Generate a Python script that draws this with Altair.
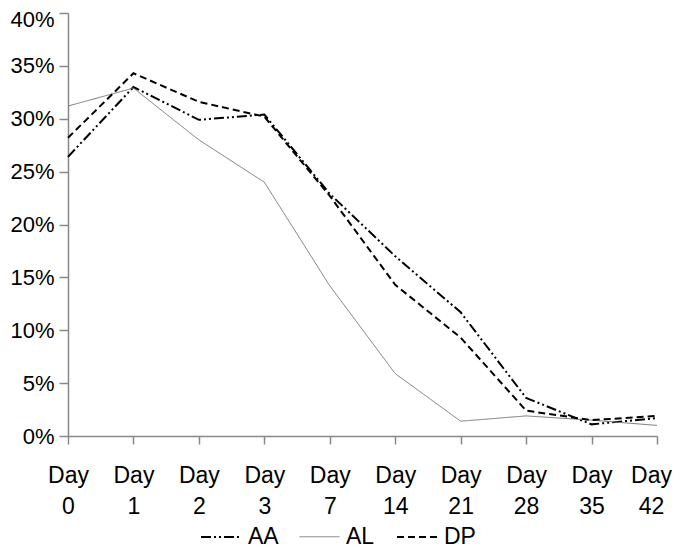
import altair as alt
import pandas as pd

days = ["Day 0", "Day 1", "Day 2", "Day 3", "Day 7", "Day 14", "Day 21", "Day 28", "Day 35", "Day 42"]
series_names = ["AA", "AL", "DP"]
aa = [26.4, 33.0, 29.9, 30.4, 22.9, 17.0, 11.7, 3.6, 1.1, 1.7]
al = [31.2, 32.9, 28.0, 24.0, 14.2, 5.9, 1.4, 1.9, 1.5, 1.0]
dp = [28.2, 34.3, 31.6, 30.2, 22.7, 14.3, 9.3, 2.4, 1.5, 1.9]
y_ticks = [0, 5, 10, 15, 20, 25, 30, 35, 40]

rows = []
for name, vals in zip(series_names, [aa, al, dp]):
    for d, v in zip(days, vals):
        rows.append({"day": d, "value": v, "series": name})
df = pd.DataFrame(rows)

FONT = "Liberation Sans"

legend = alt.Legend(
    title=None,
    orient="none",
    direction="horizontal",
    legendX=132,
    legendY=503,
    symbolType="stroke",
    symbolSize=1600,
    labelFontSize=23,
    labelFont=FONT,
    labelColor="black",
    labelOffset=6,
    columnPadding=18,
    padding=0,
)

chart = (
    alt.Chart(df)
    .mark_line()
    .encode(
        x=alt.X(
            "day:N",
            sort=days,
            scale=alt.Scale(type="point", padding=0),
            axis=alt.Axis(
                title=None,
                labelAngle=0,
                labelExpr="split(datum.label, ' ')",
                labelFontSize=23,
                labelFont=FONT,
                labelColor="black",
                labelPadding=20,
                labelLineHeight=31,
                labelOffset={"condition": {"test": "datum.value == 'Day 42'", "value": -6}, "value": 0},
                tickSize=8,
                tickColor="#888888",
                domainColor="#888888",
                domainWidth=1.5,
                tickWidth=1.5,
                grid=False,
            ),
        ),
        y=alt.Y(
            "value:Q",
            scale=alt.Scale(domain=[0, 40], nice=False),
            axis=alt.Axis(
                title=None,
                values=y_ticks,
                labelExpr="datum.value + '%'",
                labelFontSize=22,
                labelFont=FONT,
                labelColor="black",
                labelPadding=5,
                labelOffset={"condition": {"test": "datum.value == 40", "value": 6}, "value": 0},
                tickSize=9,
                tickColor="#888888",
                domainColor="#888888",
                domainWidth=1.5,
                tickWidth=1.5,
                grid=False,
            ),
        ),
        color=alt.Color(
            "series:N",
            scale=alt.Scale(domain=series_names, range=["#000000", "#777777", "#000000"]),
            legend=legend,
        ),
        strokeDash=alt.StrokeDash(
            "series:N",
            scale=alt.Scale(domain=series_names, range=[[10, 3, 2, 3, 2, 3], [1, 0], [7, 4]]),
            legend=legend,
        ),
        strokeWidth=alt.StrokeWidth(
            "series:N",
            scale=alt.Scale(type="ordinal", domain=series_names, range=[2, 1, 2]),
            legend=legend,
        ),
    )
    .properties(
        width=589,
        height=423,
        autosize=alt.AutoSizeParams(type="none"),
        padding={"left": 60, "top": 5, "right": 15, "bottom": 113},
    )
    .configure_view(stroke=None)
)

chart.save("out.html", embed_options={"renderer": "svg", "actions": False})
